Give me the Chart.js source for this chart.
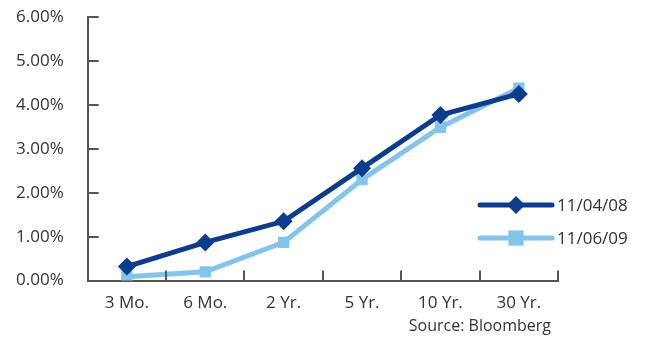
<!DOCTYPE html>
<html>
<head>
<meta charset="utf-8">
<script src="https://cdn.jsdelivr.net/npm/chart.js@4/dist/chart.umd.min.js"></script>
<style>
  html, body { margin: 0; padding: 0; background: #fff; }
  #wrap { width: 650px; height: 337px; }
</style>
</head>
<body>
<div id="wrap"><canvas id="yieldChart"></canvas></div>
<script>
var maturities = ['3 Mo.', '6 Mo.', '2 Yr.', '5 Yr.', '10 Yr.', '30 Yr.'];
var yields2008 = [0.32, 0.87, 1.35, 2.56, 3.77, 4.25];
var yields2009 = [0.09, 0.20, 0.87, 2.30, 3.49, 4.38];
var seriesLabels = ['11/04/08', '11/06/09'];
var sourceNote = 'Source: Bloomberg';

var axisColor = '#555555';
var textColor = '#333333';
var fontFamily = '"Open Sans", "Noto Sans", sans-serif';

// ticks drawn on the inside of the axes, legend and source note
var decorPlugin = {
    id: 'decor',
    afterDraw: function (chart) {
        let ctx = chart.ctx;
        let area = chart.chartArea;
        let x = chart.scales.x;
        let y = chart.scales.y;

        ctx.save();
        ctx.strokeStyle = axisColor;
        ctx.lineWidth = 2;
        ctx.beginPath();
        y.ticks.forEach(function (t) {
            let py = Math.round(y.getPixelForValue(t.value));
            ctx.moveTo(area.left, py);
            ctx.lineTo(area.left + 11, py);
        });
        for (let i = 1; i <= x.ticks.length; i++) {
            let px = Math.round(x.getPixelForValue(i - 0.5));
            ctx.moveTo(px, area.bottom);
            ctx.lineTo(px, area.bottom - 10);
        }
        ctx.stroke();

        // legend
        ctx.font = '17px ' + fontFamily;
        ctx.textBaseline = 'middle';
        ctx.textAlign = 'left';
        chart.data.datasets.forEach(function (ds, i) {
            let ly = 205 + i * 33;
            let x0 = area.right - 78;
            let x1 = area.right - 6;
            ctx.strokeStyle = ds.borderColor;
            ctx.lineWidth = 5;
            ctx.lineCap = 'round';
            ctx.beginPath();
            ctx.moveTo(x0, ly);
            ctx.lineTo(x1, ly);
            ctx.stroke();
            ctx.fillStyle = ds.borderColor;
            let mx = (x0 + x1) / 2;
            let r = ds.pointRadius;
            ctx.beginPath();
            if (ds.pointStyle === 'rectRot') {
                ctx.moveTo(mx, ly - r);
                ctx.lineTo(mx + r, ly);
                ctx.lineTo(mx, ly + r);
                ctx.lineTo(mx - r, ly);
                ctx.closePath();
            } else {
                let s = r * 0.95;
                ctx.rect(mx - s, ly - s, 2 * s, 2 * s);
            }
            ctx.fill();
            ctx.fillStyle = textColor;
            ctx.fillText(ds.label, area.right - 1, ly + 1);
        });

        ctx.font = '16px ' + fontFamily;
        ctx.textAlign = 'right';
        ctx.fillStyle = textColor;
        ctx.fillText(sourceNote, area.right - 7, 326);
        ctx.restore();
    }
};

new Chart(document.getElementById('yieldChart'), {
    type: 'line',
    data: {
        labels: maturities,
        datasets: [
            {
                label: seriesLabels[0],
                data: yields2008,
                borderColor: '#0b3d8c',
                backgroundColor: '#0b3d8c',
                borderWidth: 5,
                pointStyle: 'rectRot',
                pointRadius: 9,
                pointBorderWidth: 0,
                tension: 0
            },
            {
                label: seriesLabels[1],
                data: yields2009,
                borderColor: '#82c4ea',
                backgroundColor: '#82c4ea',
                borderWidth: 5,
                pointStyle: 'rect',
                pointRadius: 8,
                pointBorderWidth: 0,
                tension: 0
            }
        ]
    },
    options: {
        responsive: true,
        maintainAspectRatio: false,
        animation: false,
        layout: {
            autoPadding: false,
            padding: { top: 0, right: 92, bottom: 20, left: 0 }
        },
        plugins: {
            legend: { display: false },
            tooltip: { enabled: false }
        },
        scales: {
            x: {
                offset: true,
                grid: { display: false },
                border: { display: true, color: axisColor, width: 2 },
                ticks: {
                    color: textColor,
                    font: { family: fontFamily, size: 17 },
                    padding: 4,
                    maxRotation: 0
                }
            },
            y: {
                min: 0,
                max: 6,
                grid: { display: false },
                border: { display: true, color: axisColor, width: 2 },
                ticks: {
                    stepSize: 1,
                    color: textColor,
                    font: { family: fontFamily, size: 17 },
                    padding: 16,
                    callback: function (v) {
                        return v.toFixed(2) + '%';
                    }
                },
                afterFit: function (scale) {
                    // tick padding is meant for the horizontal gap only
                    scale.paddingTop = 17;
                    scale.paddingBottom = 10;
                }
            }
        }
    },
    plugins: [decorPlugin]
});
</script>
</body>
</html>
